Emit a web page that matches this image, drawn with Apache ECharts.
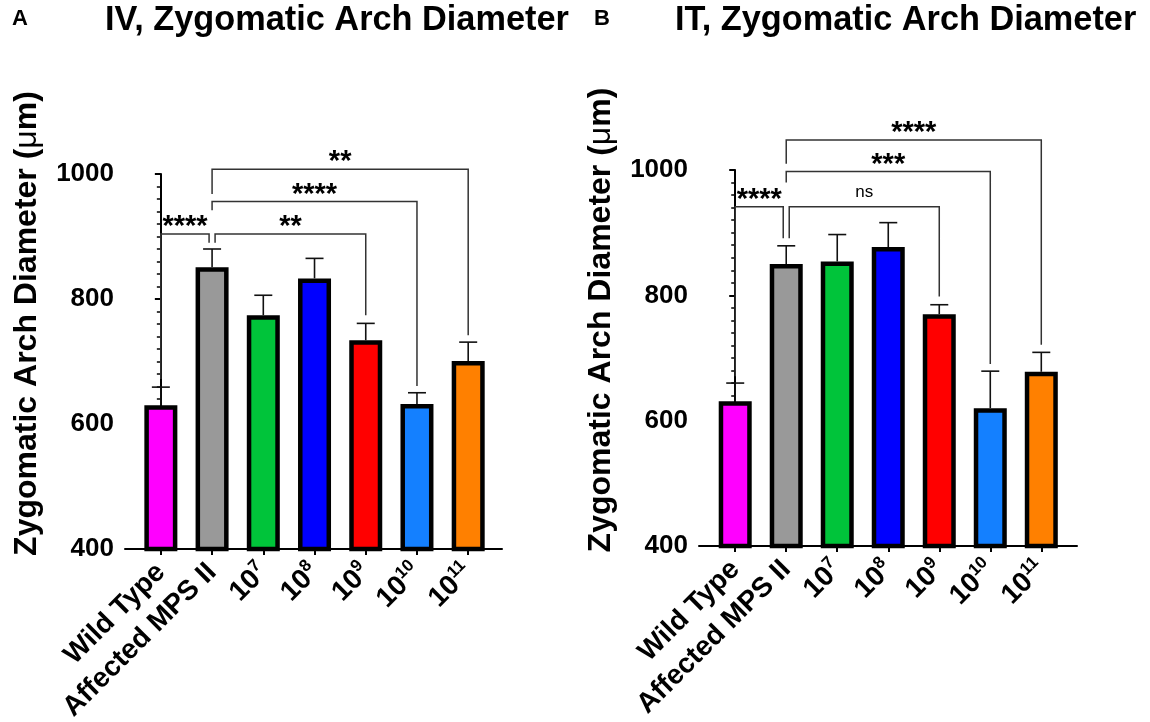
<!DOCTYPE html>
<html><head><meta charset="utf-8">
<script src="https://cdn.jsdelivr.net/npm/echarts@6/dist/echarts.min.js"></script>
<style>html,body{margin:0;padding:0;background:#fff}#c{width:1150px;height:722px}</style>
</head><body><div id="c"></div>
<script>
// ---------- data ----------
const categories = ['Wild Type', 'Affected MPS II', '10^7', '10^8', '10^9', '10^10', '10^11'];
const barColors = ['#FF00FF', '#999999', '#00C43A', '#0000FF', '#FF0000', '#1480FF', '#FF8000'];
const yTickValues = [400, 600, 800, 1000];
const panelTitles = ['IV, Zygomatic Arch Diameter', 'IT, Zygomatic Arch Diameter'];
const panelLetters = ['A', 'B'];

const ivMean = [630, 851, 774, 833, 734, 632, 701];
const ivSem  = [29, 29, 32, 32, 27, 18, 30];
const itMean = [631, 850, 854, 877, 770, 620, 678];
const itSem  = [29, 29, 43, 39, 15, 59, 31];

// brackets: [fromIndex, toIndex, topValue, leftLegEndValue, rightLegEndValue, label]
const ivBrackets = [
  [0, 1, 904, 672, 890, '****'],
  [1, 4, 904, 890, 774, '**'],
  [1, 5, 956, 942, 661, '****'],
  [1, 6, 1007.5, 968, 742, '**']
];
const itBrackets = [
  [0, 1, 941.5, 671, 891, '****'],
  [1, 4, 941.5, 891, 798, 'ns'],
  [1, 5, 997.5, 980, 690.5, '***'],
  [1, 6, 1048, 1010, 721, '****']
];

// ---------- style ----------
const FONT = '"Liberation Sans", Arial, Helvetica, sans-serif';
const legOffsets = [[0, -3], [3, 0], [0, 0], [0, 0]];
const catIdx = categories.map((c, i) => i);

function xLabel(v) {
  const c = categories[Math.round(v)];
  if (c === undefined) return '';
  if (c.indexOf('^') >= 0) {
    const p = c.split('^');
    return '{b|' + p[0] + '}{s|' + p[1] + '}';
  }
  return '{b|' + c + '}';
}

function panel(i, g, xMin, xMax, mean, sem, brackets) {
  const grid = Object.assign({ containLabel: false, outerBoundsMode: 'none' }, g);
  const xAxis = {
    type: 'value', gridIndex: i, min: xMin, max: xMax,
    splitLine: { show: false },
    axisLine: { show: true, onZero: false, lineStyle: { color: '#000', width: 2 } },
    axisTick: { show: true, customValues: catIdx, length: 6, lineStyle: { color: '#000', width: 2 } },
    axisLabel: {
      customValues: catIdx, formatter: xLabel, rotate: 45, margin: 19,
      rich: {
        b: { fontFamily: FONT, fontSize: 28, fontWeight: 'bold', color: '#000', lineHeight: 32 },
        s: { fontFamily: FONT, fontSize: 17, fontWeight: 'bold', color: '#000', lineHeight: 17, verticalAlign: 'top' }
      }
    }
  };
  const yAxis = {
    type: 'value', gridIndex: i, min: 400, max: 1000, interval: 200,
    splitLine: { show: false },
    axisLine: { show: true, lineStyle: { color: '#000', width: 2 } },
    axisTick: { show: true, length: 6, lineStyle: { color: '#000', width: 2 } },
    minorTick: { show: true, splitNumber: 10, length: 4, lineStyle: { color: '#000', width: 1.5 } },
    axisLabel: {
      margin: 11, fontFamily: FONT, fontSize: 26, fontWeight: 'bold', color: '#000',
      formatter: v => (yTickValues.indexOf(v) >= 0 ? String(v) : '')
    },
    name: '{t|Zygomatic Arch Diameter (}{u|μ}{t|m)}',
    nameLocation: 'middle', nameRotate: 90, nameGap: 82,
    nameTextStyle: {
      padding: [0, 0, 0, 76],
      rich: {
        t: { fontFamily: FONT, fontSize: 32, fontWeight: 'bold', color: '#000' },
        u: { fontFamily: FONT, fontSize: 32, fontWeight: 'normal', color: '#000' }
      }
    }
  };
  const series = [
    {
      type: 'bar', xAxisIndex: i, yAxisIndex: i, barWidth: 33,
      itemStyle: { borderColor: '#000', borderWidth: 4.5 },
      data: mean.map((v, k) => ({ value: [k, v], itemStyle: { color: barColors[k] } })),
      z: 2
    },
    {
      type: 'custom', xAxisIndex: i, yAxisIndex: i, z: 3,
      data: mean.map((v, k) => [k, v, v + sem[k]]),
      renderItem: function (params, api) {
        const p0 = api.coord([api.value(0), api.value(1)]);
        const p1 = api.coord([api.value(0), api.value(2)]);
        const st = { stroke: '#111', lineWidth: 1.6 };
        return {
          type: 'group', children: [
            { type: 'line', shape: { x1: p0[0], y1: p0[1], x2: p1[0], y2: p1[1] }, style: st },
            { type: 'line', shape: { x1: p1[0] - 9, y1: p1[1], x2: p1[0] + 9, y2: p1[1] }, style: st }
          ]
        };
      }
    },
    {
      type: 'custom', xAxisIndex: i, yAxisIndex: i, z: 4, clip: false,
      data: brackets.map(b => [b[0], b[2], b[1], b[3], b[4]]),
      renderItem: function (params, api) {
        const b = brackets[params.dataIndex];
        const off = legOffsets[params.dataIndex];
        const pl = api.coord([b[0], b[3]]);
        const pt = api.coord([b[0], b[2]]);
        const pr = api.coord([b[1], b[4]]);
        const prt = api.coord([b[1], b[2]]);
        const x1 = pl[0] + off[0], x2 = prt[0] + off[1];
        const ns = b[5] === 'ns';
        return {
          type: 'group', children: [
            { type: 'polyline', shape: { points: [[x1, pl[1]], [x1, pt[1]], [x2, pt[1]], [x2, pr[1]]] },
              style: { stroke: '#333', lineWidth: 1.5, fill: 'none' } },
            { type: 'text', x: (x1 + x2) / 2, y: pt[1] - (ns ? 14 : 7),
              style: { text: b[5], align: 'center', verticalAlign: 'middle', fill: '#000',
                fontFamily: FONT, fontSize: ns ? 17 : 29, fontWeight: ns ? 'normal' : 'bold' } }
          ]
        };
      }
    }
  ];
  return { grid, xAxis, yAxis, series };
}

const pA = panel(0, { left: 125, top: 174, width: 377, height: 375 }, -0.7, 6.66, ivMean, ivSem, ivBrackets);
const pB = panel(1, { left: 699, top: 170, width: 378, height: 376 }, -0.71, 6.7, itMean, itSem, itBrackets);

const chart = echarts.init(document.getElementById('c'));
chart.setOption({
  animation: false,
  backgroundColor: '#fff',
  grid: [pA.grid, pB.grid],
  xAxis: [pA.xAxis, pB.xAxis],
  yAxis: [pA.yAxis, pB.yAxis],
  series: pA.series.concat(pB.series),
  graphic: [
    { type: 'text', left: 105, top: 4, style: { text: panelTitles[0], fontFamily: FONT, fontSize: 34.3, fontWeight: 'bold', fill: '#000' } },
    { type: 'text', left: 675, top: 4, style: { text: panelTitles[1], fontFamily: FONT, fontSize: 34.3, fontWeight: 'bold', fill: '#000' } },
    { type: 'text', left: 12, top: 8, style: { text: panelLetters[0], fontFamily: FONT, fontSize: 22, fontWeight: 'bold', fill: '#000' } },
    { type: 'text', left: 594, top: 8, style: { text: panelLetters[1], fontFamily: FONT, fontSize: 22, fontWeight: 'bold', fill: '#000' } }
  ]
});
</script>
</body></html>
